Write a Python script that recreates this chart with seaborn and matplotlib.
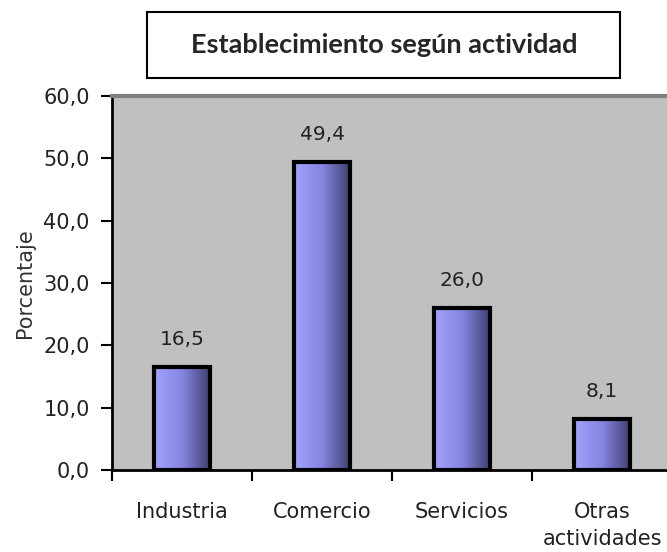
import numpy as np
import seaborn as sns
import matplotlib.pyplot as plt
from matplotlib.patches import Rectangle
from matplotlib.ticker import FuncFormatter, FixedLocator

# data
categories = ["Industria", "Comercio", "Servicios", "Otras\nactividades"]
values = [16.5, 49.4, 26.0, 8.1]
y_ticks = [0, 10, 20, 30, 40, 50, 60]

sns.set_style("white")
plt.rcParams['font.family'] = ['DejaVu Sans']

fig = plt.figure(figsize=(6.67, 5.52), dpi=100)
ax = fig.add_axes([0.168, 0.1486, 0.8396, 0.6775])
ax.set_facecolor("#C0C0C0")

sns.barplot(x=categories, y=values, width=0.4, color="#9999FF",
            edgecolor="black", linewidth=3, ax=ax, zorder=3)

# horizontal gradient inside every bar
grad = np.linspace(0, 1, 256).reshape(1, -1)
cmap = sns.blend_palette(["#A3A3FF", "#8585E0", "#3E3E6C"], as_cmap=True)
for i, p in enumerate(ax.patches):
    x0, y0 = p.get_x(), p.get_y()
    w, h = p.get_width(), p.get_height()
    im = ax.imshow(grad, extent=[x0, x0 + w, y0, y0 + h], cmap=cmap,
                   aspect="auto", zorder=2.9, origin="lower")
    im.set_clip_path(p)
    p.set_facecolor("none")
    ax.text(x0 + w / 2, y0 + h + 2.9, f"{values[i]:.1f}".replace(".", ","),
            ha="center", va="bottom", fontsize=14.5, color="#222222")

ax.set_xlim(-0.5, 3.5)
ax.set_ylim(0, 60)
ax.set_yticks(y_ticks)
ax.yaxis.set_major_formatter(FuncFormatter(lambda v, _: f"{v:.1f}".replace(".", ",")))

# ticks on category borders, labels at centres
ax.xaxis.set_major_locator(FixedLocator([-0.5, 0.5, 1.5, 2.5]))
ax.xaxis.set_minor_locator(FixedLocator([0, 1, 2, 3]))
ax.set_xticklabels([], minor=False)
ax.set_xticklabels(categories, minor=True, fontsize=15, color="#222222",
                   linespacing=1.45)
ax.tick_params(axis="x", which="major", direction="out", length=8, width=1.5,
               color="black", bottom=True)
ax.tick_params(axis="x", which="minor", length=0, pad=23)
ax.tick_params(axis="y", direction="out", length=8, width=1.5, color="black",
               left=True, labelsize=15, labelcolor="#222222", pad=8)

ax.set_ylabel("Porcentaje", fontsize=15, color="#333333", labelpad=6)
ax.set_xlabel("")

for s in ["left", "bottom"]:
    ax.spines[s].set_color("black")
    ax.spines[s].set_linewidth(2)
ax.spines["top"].set_color("#808080")
ax.spines["top"].set_linewidth(3)
ax.spines["right"].set_visible(False)

# boxed title
fig.patches.append(Rectangle((147 / 667, 1 - 78 / 552), 473 / 667, 66 / 552,
                             transform=fig.transFigure, facecolor="white",
                             edgecolor="black", linewidth=1.5))
fig.text(384 / 667, 1 - 45 / 552, "Establecimiento según actividad",
         ha="center", va="center", fontsize=19.5, fontweight="bold",
         family=["Lato", "DejaVu Sans"])

fig.savefig("out.png", dpi=100)
